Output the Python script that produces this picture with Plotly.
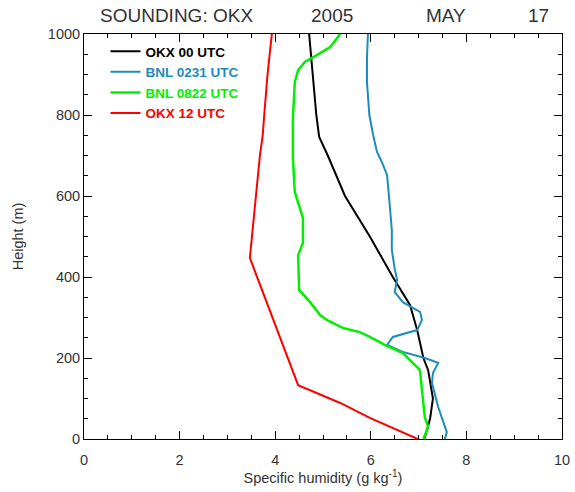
import plotly.graph_objects as go

# OKX 00 UTC
okx00_h = [1000, 900, 800, 746, 700, 600, 500, 400, 331, 269, 200, 170, 100, 50, 0]
okx00_q = [4.71, 4.78, 4.86, 4.92, 5.10, 5.46, 5.98, 6.46, 6.82, 6.97, 7.10, 7.20, 7.30, 7.24, 7.12]

# BNL 0231 UTC
bnl02_h = [1000, 940, 880, 800, 750, 709, 684, 652, 600, 516, 479, 467, 420, 393, 363, 338, 314, 294,
           269, 252, 232, 215, 200, 188, 163, 138, 79, 17, 0]
bnl02_q = [5.94, 5.92, 5.92, 5.97, 6.05, 6.13, 6.23, 6.34, 6.38, 6.44, 6.44, 6.44, 6.50, 6.55, 6.50,
           6.67, 7.03, 7.07, 6.97, 6.46, 6.34, 6.67, 7.13, 7.41, 7.30, 7.28, 7.41, 7.59, 7.55]

# BNL 0822 UTC
bnl08_h = [1000, 968, 948, 931, 911, 881, 793, 751, 694, 610, 570, 546, 484, 454, 368, 338, 306, 294,
           274, 264, 252, 232, 212, 190, 170, 121, 54, 30, 0]
bnl08_q = [5.36, 5.15, 4.87, 4.62, 4.48, 4.41, 4.37, 4.37, 4.37, 4.41, 4.52, 4.58, 4.58, 4.48, 4.50,
           4.73, 4.94, 5.08, 5.42, 5.77, 5.98, 6.30, 6.67, 6.86, 7.03, 7.07, 7.13, 7.20, 7.10]

# OKX 12 UTC
okx12_h = [1000, 900, 800, 751, 700, 600, 516, 447, 133, 89, 52, 20, 0]
okx12_q = [3.93, 3.84, 3.77, 3.74, 3.68, 3.60, 3.54, 3.47, 4.48, 5.36, 5.98, 6.60, 6.98]

series = [
    ("OKX 00 UTC", okx00_q, okx00_h, "#000000", 2),
    ("BNL 0231 UTC", bnl02_q, bnl02_h, "#1c8cbc", 2),
    ("BNL 0822 UTC", bnl08_q, bnl08_h, "#00f000", 2.5),
    ("OKX 12 UTC", okx12_q, okx12_h, "#ff0000", 2),
]

title_parts = [("SOUNDING: OKX", 0.193), ("2005", 0.518), ("MAY", 0.757), ("17", 0.95)]

fig = go.Figure()
for name, q, h, col, w in series:
    fig.add_trace(go.Scatter(
        x=q, y=h, mode="lines", line=dict(color=col, width=w),
        name=f"<span style='color:{col}'><b>{name}</b></span>",
    ))

axis_font = dict(family="Liberation Sans", size=14.5, color="#333333")
fig.update_layout(
    width=575, height=492,
    margin=dict(l=84, r=13, t=34, b=53, autoexpand=False),
    plot_bgcolor="white", paper_bgcolor="white",
    showlegend=True,
    legend=dict(x=0.045, y=0.995, xanchor="left", yanchor="top",
                bgcolor="rgba(0,0,0,0)", font=dict(family="Arial, Liberation Sans", size=13.5),
                tracegroupgap=0, itemwidth=30),
    xaxis=dict(range=[0, 10], dtick=2, ticks="inside", ticklen=8, tickcolor="black",
               showline=True, linecolor="black", linewidth=1, mirror="ticks",
               showgrid=False, zeroline=False, tickfont=axis_font, automargin=False,
               ticklabelstandoff=8,
               minor=dict(dtick=0.5, ticks="inside", ticklen=4, tickcolor="black"),
               title=dict(text="Specific humidity (g kg<sup>-1</sup>)", font=axis_font, standoff=4)),
    yaxis=dict(range=[0, 1000], dtick=200, ticks="inside", ticklen=8, tickcolor="black",
               showline=True, linecolor="black", linewidth=1, mirror="ticks",
               showgrid=False, zeroline=False, tickfont=axis_font, automargin=False,
               minor=dict(dtick=50, ticks="inside", ticklen=4, tickcolor="black"),
               title=dict(text="Height (m)", font=axis_font, standoff=20)),
)
for txt, xp in title_parts:
    fig.add_annotation(text=txt, x=xp, y=1.0, xref="paper", yref="paper",
                       xanchor="center", yanchor="bottom", yshift=6, showarrow=False,
                       font=dict(family="Liberation Sans", size=19, color="#333333"))

fig.write_html("out.html")
